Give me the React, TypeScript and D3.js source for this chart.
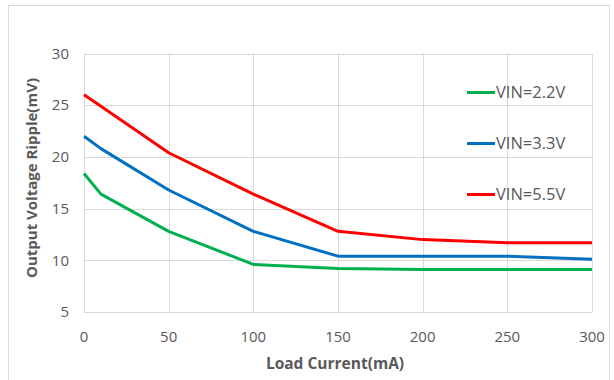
import React from 'react';
import * as d3 from 'd3';

const loadCurrent = [0, 10, 50, 100, 150, 200, 250, 300];
const vin22 = [18.4, 16.4, 12.8, 9.6, 9.2, 9.1, 9.1, 9.1];
const vin33 = [22.0, 20.8, 16.8, 12.8, 10.4, 10.4, 10.4, 10.1];
const vin55 = [26.0, 24.9, 20.4, 16.4, 12.8, 12.0, 11.7, 11.7];
const seriesNames = ['VIN=2.2V', 'VIN=3.3V', 'VIN=5.5V'];
const xTicks = [0, 50, 100, 150, 200, 250, 300];
const yTicks = [5, 10, 15, 20, 25, 30];

const WIDTH = 614;
const HEIGHT = 380;
const COLORS = ['#00B050', '#0070C0', '#FF0000'];
const GRID = '#D9D9D9';
const TEXT = '#595959';
const FONT = '"Open Sans", sans-serif';

export default function App() {
  const plot = {left: 84, right: 592, top: 53.5, bottom: 312};

  const xScale = d3.scaleLinear().domain([0, 300]).range([plot.left, plot.right]);
  const yScale = d3.scaleLinear().domain([5, 30]).range([plot.bottom, plot.top]);

  const line = d3.line<number>()
    .x((d, i) => xScale(loadCurrent[i]))
    .y(d => yScale(d));

  const series = [vin22, vin33, vin55];

  return (
    <svg width={WIDTH} height={HEIGHT}
      style={{position: 'absolute', left: 0, top: 0, background: '#fff'}}>
      <rect x={8.5} y={5.5} width={601} height={390} fill="#fff" stroke={GRID} strokeWidth={1}/>

      {yTicks.map(t => (
        <line key={'gy' + t} x1={plot.left} x2={plot.right}
          y1={Math.round(yScale(t)) + 0.5} y2={Math.round(yScale(t)) + 0.5}
          stroke={GRID} strokeWidth={1}/>
      ))}
      {xTicks.map(t => (
        <line key={'gx' + t} y1={plot.top} y2={plot.bottom}
          x1={Math.round(xScale(t)) + 0.5} x2={Math.round(xScale(t)) + 0.5}
          stroke={GRID} strokeWidth={1}/>
      ))}

      {yTicks.map(t => (
        <text key={'ty' + t} x={69} y={yScale(t)} dy="0.35em" textAnchor="end"
          fontFamily={FONT} fontSize={15} fill={TEXT}>{t}</text>
      ))}
      {xTicks.map(t => (
        <text key={'tx' + t} x={xScale(t)} y={337} dy="0.35em" textAnchor="middle"
          fontFamily={FONT} fontSize={15} fill={TEXT}>{t}</text>
      ))}

      {series.map((s, i) => (
        <path key={'s' + i} d={line(s) || ''} fill="none" stroke={COLORS[i]}
          strokeWidth={3} strokeLinejoin="round"/>
      ))}

      {seriesNames.map((name, i) => (
        <g key={'lg' + i} transform={`translate(467, ${92.5 + i * 51})`}>
          <line x1={0} x2={28} y1={0} y2={0} stroke={COLORS[i]} strokeWidth={3}/>
          <text x={29} y={0} dy="0.35em" fontFamily={FONT} fontSize={16.5} fill={TEXT}>{name}</text>
        </g>
      ))}

      <text x={335} y={364} dy="0.35em" textAnchor="middle" fontFamily={FONT}
        fontSize={15.5} fontWeight="bold" fill={TEXT}>Load Current(mA)</text>
      <text transform={`translate(32, 178) rotate(-90)`}
        dy="0.35em" textAnchor="middle" fontFamily={FONT} fontSize={15}
        fontWeight="bold" fill={TEXT}>Output Voltage Ripple(mV)</text>
    </svg>
  );
}
